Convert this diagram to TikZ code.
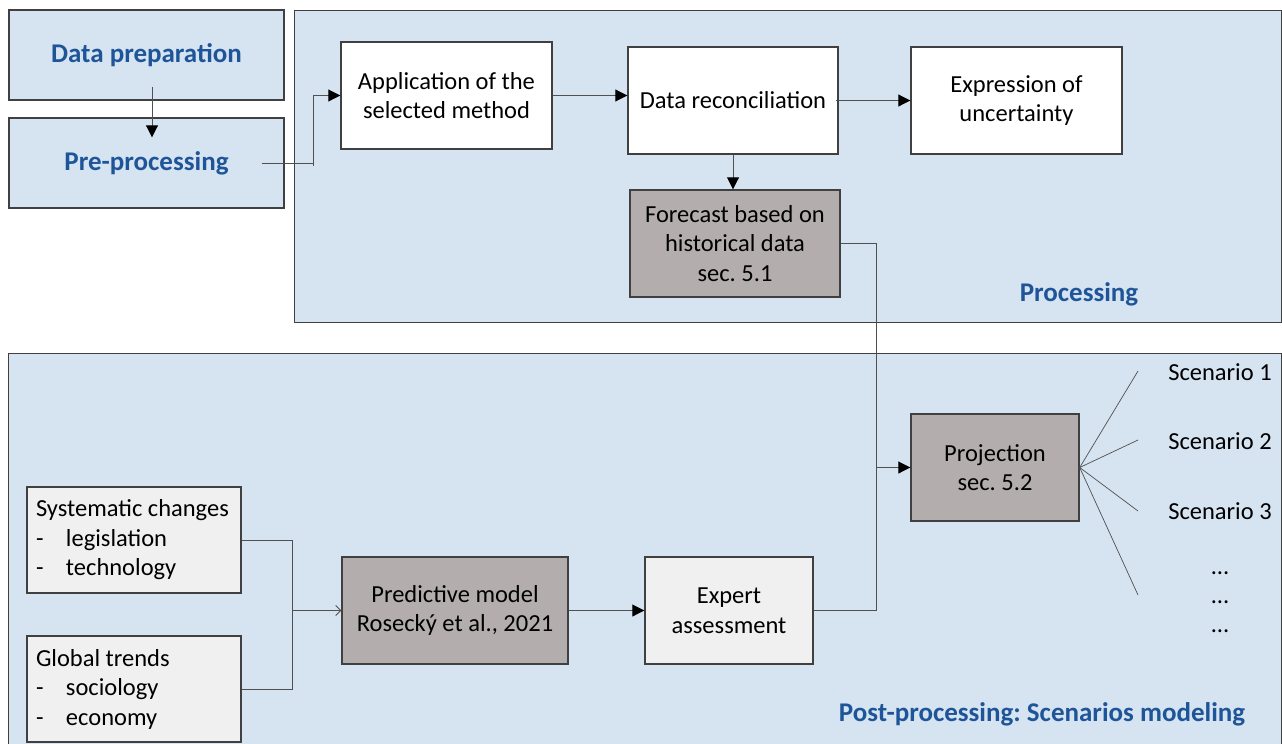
\documentclass[tikz,border=0pt]{standalone}
\usepackage{fontspec}
\setmainfont{Carlito}
\usetikzlibrary{arrows.meta}
\frenchspacing

\definecolor{regionfill}{RGB}{214,227,241}
\definecolor{headblue}{RGB}{30,85,152}
\definecolor{boxline}{RGB}{64,64,64}
\definecolor{wireline}{RGB}{80,80,80}
\definecolor{darkbox}{RGB}{179,174,173}
\definecolor{lightbox}{RGB}{240,240,240}

\tikzset{
  region/.style={draw=boxline, line width=1.4pt, fill=regionfill, inner sep=0pt},
  stagebox/.style={draw=boxline, line width=1.4pt, fill=regionfill, minimum width=275pt, minimum height=90pt, inner sep=0pt,
    font=\fontsize{27}{30}\selectfont\bfseries, text=headblue},
  whitebox/.style={draw=boxline, line width=1.4pt, fill=white, minimum height=107pt, align=flush center, inner sep=2pt},
  graybox/.style={draw=boxline, line width=1.4pt, fill=darkbox, minimum height=107pt, align=flush center, inner sep=2pt},
  palebox/.style={draw=boxline, line width=1.4pt, fill=lightbox, minimum height=107pt, align=flush center, inner sep=2pt},
  listbox/.style={draw=boxline, line width=1.4pt, fill=lightbox, minimum height=106pt, text width=196pt, inner sep=9pt, align=flush left},
  regionlabel/.style={font=\fontsize{27}{30}\selectfont\bfseries, text=headblue},
  wire/.style={draw=wireline, line width=0.9pt},
  flowarrow/.style={wire, -{Triangle[length=12pt,width=12pt,color=black,fill=black]}},
  openarrow/.style={wire, -{Straight Barb[length=5pt,width=10pt,line width=0.9pt]}},
}

\newcommand{\listitem}[1]{\makebox[30pt][l]{-}#1}

\begin{document}
\begin{tikzpicture}[x=1pt, y=-1pt, font=\fontsize{24.5}{29.5}\selectfont]
  \clip (0,0) rectangle (1282,744);
  \fill[white] (0,0) rectangle (1282,744);

  % large regions
  \node[region, minimum width=987pt, minimum height=312pt, anchor=north west] (procregion) at (294,10) {};
  \node[region, minimum width=1273pt, minimum height=420pt, anchor=north west] (postregion) at (8,353) {};
  \node[regionlabel] (proclabel) at (1079,294) {Processing};
  \node[regionlabel] (postlabel) at (1042,714) {Post-processing: Scenarios modeling};

  % data preparation stages
  \node[stagebox] (prep) at (146.5,55) {\raisebox{-2pt}{Data preparation}};
  \node[stagebox] (pre) at (146.5,163) {\raisebox{-2pt}{Pre-processing}};

  % processing boxes
  \node[whitebox, minimum width=211pt] (app) at (446.5,95.5) {Application of the\\selected method};
  \node[whitebox, minimum width=210pt] (rec) at (733,100.5) {Data reconciliation};
  \node[whitebox, minimum width=211pt] (expr) at (1016.5,100.5) {\raisebox{-2pt}{Expression of}\\\raisebox{-2pt}{uncertainty}};
  \node[graybox, minimum width=210pt] (fore) at (735,243.5) {Forecast based on\\historical data\\sec. 5.1};

  % post-processing boxes
  \node[graybox, minimum width=168pt] (proj) at (995,467.5) {Projection\\sec. 5.2};
  \node[listbox] (sys) at (134,540) {Systematic changes\\\listitem{legislation}\\\listitem{technology}};
  \node[listbox] (glob) at (134,689) {Global trends\\\listitem{sociology}\\\listitem{economy}};
  \node[graybox, minimum width=226pt] (pred) at (455,610.5) {Predictive model\\Roseck\'y et al., 2021};
  \node[palebox, minimum width=168pt] (exp) at (729,610.5) {Expert\\assessment};

  % scenario labels
  \node (sc1) at (1220,372) {Scenario 1};
  \node (sc2) at (1220,441) {Scenario 2};
  \node (sc3) at (1220,511) {Scenario 3};
  \node (dots1) at (1220,573) {…};
  \node (dots2) at (1220,602) {…};
  \node (dots3) at (1220,631) {…};

  % junction points
  \coordinate (j1) at (313,163);
  \coordinate (j2) at (876,467.5);
  \coordinate (j3) at (292,610.5);
  \coordinate (s1) at (1138,371);
  \coordinate (s2) at (1138,440);
  \coordinate (s3) at (1138,511);
  \coordinate (s4) at (1138,595);

  % connectors
  \draw[flowarrow] ([xshift=5.5pt,yshift=14pt]prep.south) -- ([xshift=5.5pt,yshift=-20pt]pre.north);
  \draw[wire] ([xshift=-23pt]pre.east) -- (j1) -- ([yshift=-3pt]j1);
  \draw[flowarrow] (j1) |- (app.west);
  \draw[flowarrow] (app.east) -- (rec.west |- app.east);
  \draw[flowarrow] ([xshift=-3pt]rec.east) -- (expr.west);
  \draw[flowarrow] (rec.south) -- (rec.south |- fore.north);
  \draw[flowarrow] (fore.east) -| (j2) -- (proj.west);
  \draw[wire] (exp.east) -| (j2);
  \draw[wire] (sys.east) -| (j3);
  \draw[wire] (glob.east) -| (j3);
  \draw[openarrow] (j3) -- (pred.west);
  \draw[flowarrow] (pred.east) -- (exp.west);
  \foreach \s in {s1,s2,s3,s4} \draw[wire, line width=0.7pt] (proj.east) -- (\s);
\end{tikzpicture}
\end{document}
